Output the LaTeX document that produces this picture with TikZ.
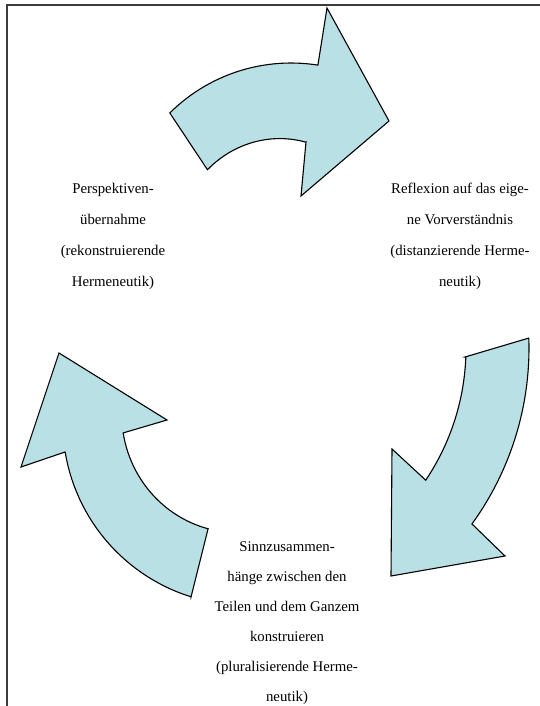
\documentclass[tikz,border=0pt]{standalone}
\usepackage{fontspec}
\setmainfont{Liberation Serif}
\definecolor{arrowfill}{RGB}{185,224,228}
\definecolor{framegray}{RGB}{60,60,60}
\begin{document}
\begin{tikzpicture}[x=1pt,y=-1pt,
  bigarrow/.style={draw=black,line width=1.1pt,fill=arrowfill,line join=miter},
  label/.style={align=center,font=\fontsize{14.8}{31}\selectfont,inner sep=0pt},
  labelbottom/.style={label,font=\fontsize{14.8}{30}\selectfont}]
\useasboundingbox (0,0) rectangle (540,706);
\draw[framegray,line width=2pt] (6.5,706) -- (6.5,5.5) -- (540,5.5);

% top arrow
\draw[bigarrow] plot[domain=134.8:81,samples=30] ({291+172*cos(\x)},{235-172*sin(\x)})
  -- (327,8) -- (389,121) -- (301,196) -- (306,142)
  -- plot[domain=81:142,samples=30] ({291+(94+12*(\x-81)/61)*cos(\x)},{235-(94+12*(\x-81)/61)*sin(\x)})
  -- cycle;

% right arrow
\draw[bigarrow] (529,338) -- (465,357)
  -- plot[domain=-2.2:-33.9,samples=30] ({229+237*cos(\x)},{348-237*sin(\x)})
  -- (392,449) -- (391,576) -- (505,556) -- (472,524)
  -- plot[domain=-35.9:1.9,samples=30] ({229+300*cos(\x)},{348-300*sin(\x)})
  -- cycle;

% left arrow
\draw[bigarrow] (191,597) -- (208,529)
  -- plot[domain=250.6:185,samples=30] ({245.7+(113+10*(250.6-\x)/65.6)*cos(\x)},{422.2-(113+10*(250.6-\x)/65.6)*sin(\x)})
  -- (167,420) -- (59,353) -- (21,467) -- (65,452)
  -- plot[domain=189.4:252.6,samples=30] ({245.7+183*cos(\x)},{422.2-183*sin(\x)})
  -- cycle;

\node[label] (persp) at (113,236) {Perspektiven-\\übernahme\\(rekonstruierende\\Hermeneutik)};
\node[label] (refl) at (460,236) {Reflexion auf das eige-\\ne Vorverständnis\\(distanzierende Herme-\\neutik)};
\node[labelbottom] (sinn) at (287,623) {Sinnzusammen-\\hänge zwischen den\\Teilen und dem Ganzem\\konstruieren\\(pluralisierende Herme-\\neutik)};
\end{tikzpicture}
\end{document}
